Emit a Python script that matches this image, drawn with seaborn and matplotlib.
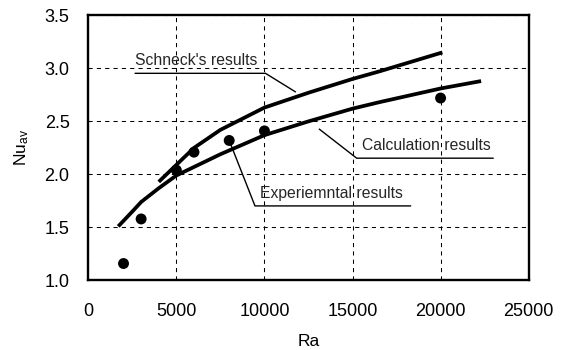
import matplotlib
matplotlib.use("Agg")
import matplotlib.pyplot as plt
import numpy as np
import pandas as pd
import seaborn as sns

# Experimental points
exp_ra = [2000, 3000, 5000, 6000, 8000, 10000, 20000]
exp_nu = [1.16, 1.58, 2.04, 2.21, 2.32, 2.41, 2.72]

# Calculated curve
calc_ra = [1700, 2500, 3000, 4000, 5000, 7500, 10000, 12500, 15000, 16500, 20000, 22300]
calc_nu = [1.51, 1.65, 1.74, 1.87, 1.99, 2.19, 2.37, 2.50, 2.62, 2.68, 2.81, 2.88]

# Schneck's curve
schneck_ra = [4000, 5000, 6000, 7500, 10000, 12500, 15000, 16500, 20100]
schneck_nu = [1.93, 2.09, 2.25, 2.42, 2.63, 2.77, 2.90, 2.97, 3.15]

x_ticks = [0, 5000, 10000, 15000, 20000, 25000]
y_ticks = [1.0, 1.5, 2.0, 2.5, 3.0, 3.5]

sns.set_style("white")
plt.rcParams["font.family"] = ["Liberation Sans", "DejaVu Sans"]
plt.rcParams["mathtext.default"] = "regular"

fig = plt.figure(figsize=(5.67, 3.5), dpi=100)
ax = fig.add_axes([0.1557, 0.1986, 0.7767, 0.7577])

calc_df = pd.DataFrame({"Ra": calc_ra, "Nu": calc_nu})
schneck_df = pd.DataFrame({"Ra": schneck_ra, "Nu": schneck_nu})
exp_df = pd.DataFrame({"Ra": exp_ra, "Nu": exp_nu})

sns.lineplot(data=calc_df, x="Ra", y="Nu", ax=ax, color="black", lw=2.7,
             sort=False, solid_capstyle="butt", solid_joinstyle="round", zorder=4)
sns.lineplot(data=schneck_df, x="Ra", y="Nu", ax=ax, color="black", lw=2.7,
             sort=False, solid_capstyle="butt", solid_joinstyle="round", zorder=4)
sns.scatterplot(data=exp_df, x="Ra", y="Nu", ax=ax, color="black", s=62,
                edgecolor="none", zorder=5)

# Label leaders: underline beneath each text plus a slanted pointer
def leader(text, tx, ty, x0, x1, uy, px, py):
    ax.text(tx, ty, text, fontsize=11.3, ha="left", va="center", zorder=6)
    ax.plot([px, x0, x1], [py, uy, uy], color="black", lw=1.0, zorder=6)

leader("Schneck's results", 2657, 3.074, 10060, 2657, 2.953, 11762, 2.778)
leader("Calculation results", 15555, 2.272, 15236, 22990, 2.153, 13113, 2.427)
leader("Experiemntal results", 9747, 1.816, 9463, 18302, 1.703, 8000, 2.32)

ax.set_xlim(0, 25000)
ax.set_ylim(1.0, 3.5)
ax.set_xticks(x_ticks)
ax.set_yticks(y_ticks)
ax.set_xticklabels([str(v) for v in x_ticks])
ax.set_yticklabels([f"{v:.1f}" for v in y_ticks])

ax.grid(True, color="black", lw=0.75, linestyle=(0, (4, 4)))
ax.set_axisbelow(True)

for side in ["left", "bottom", "top", "right"]:
    ax.spines[side].set_visible(True)
    ax.spines[side].set_color("black")
    ax.spines[side].set_linewidth(1.7)

ax.tick_params(axis="both", which="major", direction="out", length=4,
               width=1.0, color="black", labelsize=13, labelcolor="black")
ax.tick_params(axis="x", pad=12.5)
ax.tick_params(axis="y", pad=9.5)

ax.set_xlabel("Ra", fontsize=12.5, color="black")
ax.set_ylabel(r"Nu$_{av}$", fontsize=12.5, color="black")
ax.xaxis.set_label_coords(0.5, -0.2)
ax.yaxis.set_label_coords(-0.13, 0.5)

fig.savefig("out.png", dpi=100)
